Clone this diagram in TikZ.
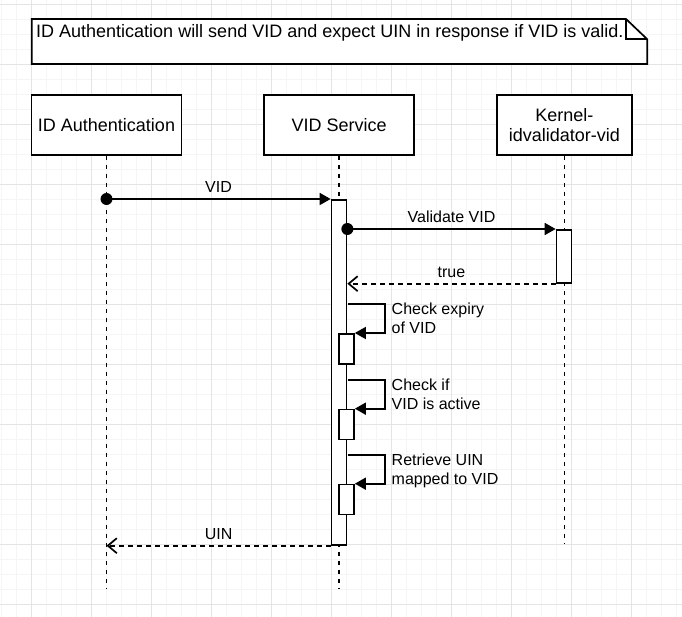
\documentclass[tikz,border=0pt]{standalone}
\usepackage{fontspec}
\setmainfont{Liberation Sans}
\usetikzlibrary{arrows.meta,positioning}

\definecolor{gridmajor}{HTML}{E4E4E4}
\definecolor{gridminor}{HTML}{F5F5F5}

\begin{document}
\begin{tikzpicture}[x=1pt,y=-1pt,
        lifebox/.style={
            draw=black,
            fill=white,
            line width=1.7pt,
            minimum width=150pt,
            minimum height=60pt,
            inner sep=2pt,
            align=center,
            font=\fontsize{18}{19.5}\selectfont},
        actbar/.style={draw=black, fill=white, line width=1.7pt,
            minimum width=15pt, inner sep=0pt, anchor=north},
        lifeline/.style={line width=1.7pt, dash pattern=on 4.5pt off 4.5pt},
        dot/.style={circle, fill=black, minimum size=12pt, inner sep=0pt},
        callarrow/.style={line width=1.7pt, -{Triangle[length=11pt,width=12pt]}},
        retarrow/.style={line width=1.7pt, dash pattern=on 4.5pt off 4.5pt,
            -{Straight Barb[length=9pt,width=15pt]}},
        msglabel/.style={font=\fontsize{16}{19}\selectfont, anchor=base,
            yshift=6pt, inner sep=0pt},
        looplabel/.style={font=\fontsize{16}{19}\selectfont, anchor=north west,
            align=left, inner sep=0pt, xshift=6pt, yshift=2pt},
        node distance=81pt
        ]
        \useasboundingbox (0,0) rectangle (682,617);
        \fill[white] (0,0) rectangle (682,617);

        % background grid
        \foreach \i in {0,...,45}
            \draw[gridminor, line width=1pt] (1.7+15*\i,0) -- (1.7+15*\i,617);
        \foreach \i in {0,...,41}
            \draw[gridminor, line width=1pt] (0,4.3+15*\i) -- (682,4.3+15*\i);
        \foreach \i in {0,...,10} {
            \draw[gridmajor, line width=1pt] (31.7+60*\i,0) -- (31.7+60*\i,617);
            \draw[gridmajor, line width=1pt] (0,4.3+60*\i) -- (682,4.3+60*\i);
        }

        % note
        \node[minimum width=615.6pt, minimum height=45pt, inner sep=0pt, outer sep=0pt] (note) at (339.5,41.5) {};
        \draw[line width=1.7pt, fill=white] (note.north west) -- ([xshift=-21.3pt]note.north east)
            -- ([yshift=-20.3pt]note.north east) -- (note.south east) -- (note.south west) -- cycle;
        \draw[line width=1.7pt] ([xshift=-21.3pt]note.north east) -- ([xshift=-21.3pt,yshift=-20.3pt]note.north east)
            -- ([yshift=-20.3pt]note.north east);
        \node[font=\fontsize{18}{20}\selectfont, anchor=base west, inner sep=0pt] (notetext)
            at ([xshift=4.3pt,yshift=-18.7pt]note.north west)
            {ID Authentication will send VID and expect UIN in response if VID is valid.};

        % participants
        \node[lifebox] (ida) at (106.5,125) {ID Authentication};
        \node[lifebox,right=of ida] (vids) {VID Service};
        \node[lifebox,minimum width=135pt,right=of vids] (kern) {Kernel-\\idvalidator-vid};

        \coordinate (lifeend) at (0,589);
        \coordinate (kernend) at (0,543);
        \draw[lifeline] (ida.south) -- (ida.south |- lifeend);
        \draw[lifeline] (vids.south) -- (vids.south |- lifeend);
        \draw[lifeline] (kern.south) -- (kern.south |- kernend);

        % activations
        \node[actbar,minimum height=345pt] (vidact) at (339,199) {};
        \node[actbar,minimum height=53pt] (kernact) at (564,229) {};
        \foreach \s/\y in {chk1/333, chk2/408.7, chk3/483.7}
            \node[actbar,minimum height=30pt] (\s) at (346.5,\y) {};

        % messages
        \node[dot] (vidsrc) at (ida.south |- vidact.north) {};
        \node[dot] (valsrc) at (vidact.east |- kernact.north) {};
        \draw[callarrow] (vidsrc.center) -- node[msglabel] (vidlbl) {VID} (vidact.north west);
        \draw[callarrow] (valsrc.center) -- node[msglabel] (vallbl) {Validate VID} (kernact.north west);
        \draw[retarrow] (kernact.south west) -- node[msglabel] (truelbl) {true} (vidact.east |- kernact.south);

        \foreach \s/\txt in {% activation/text
            chk1/{Check expiry\\of VID},
            chk2/{Check if\\VID is active},
            chk3/{Retrieve UIN\\mapped to VID}}
            \draw[callarrow] ([xshift=-7pt,yshift=29pt]\s.north east) -- ++(37,0)
                node[looplabel] (\s-lbl) {\txt} |- (\s.north east);

        \draw[retarrow] (vidact.south west) -- node[msglabel] (uinlbl) {UIN} (ida.south |- vidact.south);
\end{tikzpicture}
\end{document}
